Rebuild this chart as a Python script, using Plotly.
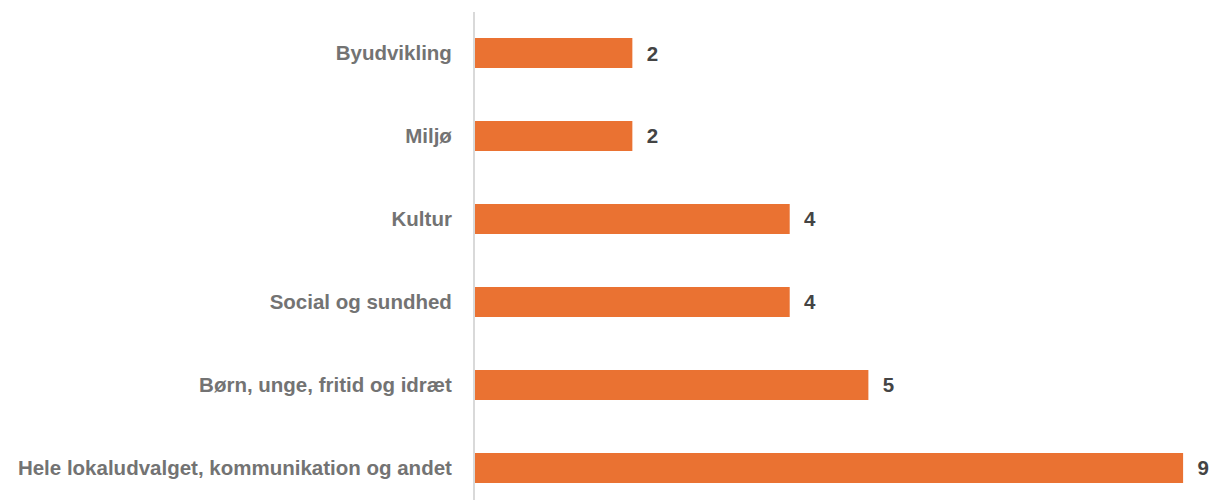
import plotly.graph_objects as go

# Categories bottom-to-top as drawn by plotly
categories = [
    'Hele lokaludvalget, kommunikation og andet',
    'Børn, unge, fritid og idræt',
    'Social og sundhed',
    'Kultur',
    'Miljø',
    'Byudvikling',
]
counts = [9, 5, 4, 4, 2, 2]

fig = go.Figure()
fig.add_trace(go.Bar(
    x=counts,
    y=categories,
    orientation='h',
    width=0.36,
    marker=dict(color='#EA7232', line=dict(width=0)),
    texttemplate='  %{x}',
    textposition='outside',
    cliponaxis=False,
    textfont=dict(family='Liberation Sans', size=20.5, color='#444444', weight='bold'),
    hoverinfo='skip',
))

fig.update_layout(
    width=1213,
    height=500,
    margin=dict(l=475, r=0, t=12, b=0, autoexpand=False),
    plot_bgcolor='white',
    paper_bgcolor='white',
    showlegend=False,
    font=dict(family='Liberation Sans', color='#737373'),
)

fig.update_xaxes(
    range=[0, 9.38],
    visible=False,
)

fig.update_yaxes(
    range=[-0.386, 5.494],
    automargin=False,
    showline=True,
    linecolor='#D9D9D9',
    linewidth=2,
    showgrid=False,
    ticks='',
    ticklabelstandoff=17,
    tickfont=dict(family='Liberation Sans', size=20.5, color='#737373', weight='bold'),
)

# drop the default page margin so the figure fills the window exactly
fig.write_html(
    'out.html',
    config={'displayModeBar': False},
    post_script="document.body.style.margin='0';document.body.style.overflow='hidden';",
)
